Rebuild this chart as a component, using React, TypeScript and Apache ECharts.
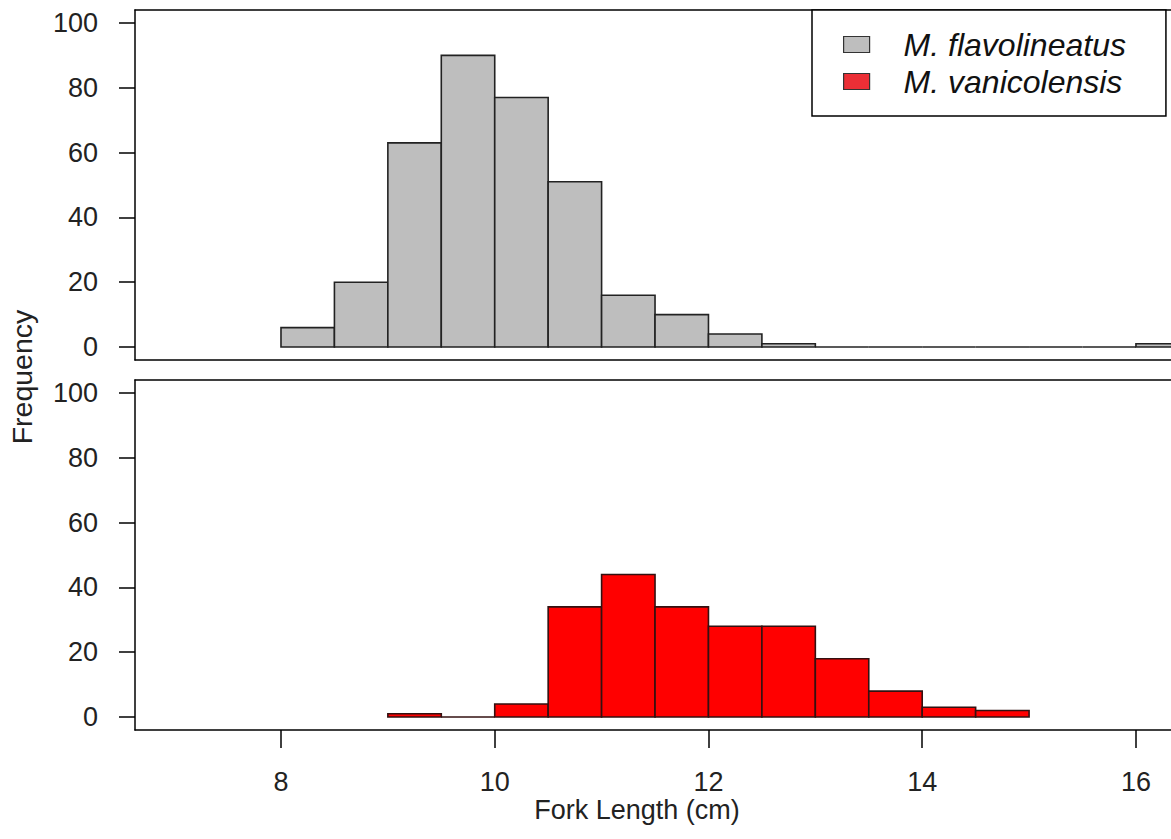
import React, { useEffect, useRef } from "react";
import * as echarts from "echarts";

// Histogram bin edges (cm) and counts
const flavBreaks = [8, 8.5, 9, 9.5, 10, 10.5, 11, 11.5, 12, 12.5, 13, 13.5, 14, 14.5, 15, 15.5, 16, 16.5];
const flavCounts = [6, 20, 63, 90, 77, 51, 16, 10, 4, 1, 0, 0, 0, 0, 0, 0, 1];
const vaniBreaks = [9, 9.5, 10, 10.5, 11, 11.5, 12, 12.5, 13, 13.5, 14, 14.5, 15];
const vaniCounts = [1, 0, 4, 34, 44, 34, 28, 28, 18, 8, 3, 2];

const xTicks = [8, 10, 12, 14, 16];
const yTicks = [0, 20, 40, 60, 80, 100];
const speciesNames = ["M. flavolineatus", "M. vanicolensis"];
const xTitle = "Fork Length (cm)";
const yTitle = "Frequency";

const FONT = "'Liberation Sans', Arial, sans-serif";

function toBins(breaks: number[], counts: number[]) {
  return counts.map((c, i) => [breaks[i], breaks[i + 1], c]);
}

function makeRender(fill: string, stroke: string) {
  return (_params: any, api: any) => {
    const x0 = api.value(0);
    const x1 = api.value(1);
    const c = api.value(2);
    const p0 = api.coord([x0, c]);
    const p1 = api.coord([x1, 0]);
    if (c === 0) {
      return {
        type: "line",
        shape: { x1: p0[0], y1: p1[1], x2: p1[0], y2: p1[1] },
        style: { stroke, lineWidth: 1.6 },
      };
    }
    return {
      type: "rect",
      shape: { x: p0[0], y: p0[1], width: p1[0] - p0[0], height: p1[1] - p0[1] },
      style: { fill, stroke, lineWidth: 1.6 },
    };
  };
}

export default function App() {
  const ref = useRef<HTMLDivElement>(null);

  useEffect(() => {
    document.body.style.margin = "0";
    if (!ref.current) return;
    const chart = echarts.init(ref.current, null, { renderer: "svg" });

    const xMin = 6.634;
    const xMax = 16.328;
    const yMin = -4;
    const yMax = 104;

    const lineStyle = { color: "#000", width: 1.5 };

    const bottomX = (gridIndex: number, withLabels: boolean) => ({
      type: "value",
      gridIndex,
      min: xMin,
      max: xMax,
      position: "bottom",
      axisLine: { show: true, onZero: false, lineStyle },
      axisTick: withLabels
        ? { show: true, length: 18, customValues: xTicks, lineStyle }
        : { show: false },
      axisLabel: withLabels
        ? { show: true, customValues: xTicks, margin: 38, fontSize: 27, color: "#222", fontFamily: FONT }
        : { show: false },
      splitLine: { show: false },
      ...(withLabels
        ? {
            name: xTitle,
            nameLocation: "middle",
            nameGap: 66,
            nameTextStyle: { fontSize: 27, color: "#222", fontFamily: FONT, padding: [0, 32, 0, 0] },
          }
        : {}),
    });

    const topX = (gridIndex: number) => ({
      type: "value",
      gridIndex,
      min: xMin,
      max: xMax,
      position: "top",
      axisLine: { show: true, onZero: false, lineStyle },
      axisTick: { show: false },
      axisLabel: { show: false },
      splitLine: { show: false },
    });

    const yAxis = (gridIndex: number) => ({
      type: "value",
      gridIndex,
      min: yMin,
      max: yMax,
      axisLine: { show: true, onZero: false, lineStyle },
      axisTick: { show: true, length: 16, customValues: yTicks, lineStyle },
      axisLabel: { show: true, customValues: yTicks, margin: 37, fontSize: 27, color: "#222", fontFamily: FONT },
      splitLine: { show: false },
    });

    const legendLabel = (name: string) => `{a|${name}}`;

    chart.setOption({
      animation: false,
      backgroundColor: "#fff",
      grid: [
        { left: 135, top: 10, width: 1036, height: 350, show: false },
        { left: 135, top: 380, width: 1036, height: 350, show: false },
      ],
      xAxis: [bottomX(0, false), topX(0), bottomX(1, true), topX(1)],
      yAxis: [yAxis(0), yAxis(1)],
      legend: {
        orient: "vertical",
        left: 812,
        top: 10,
        padding: [16, 40, 16, 31],
        itemWidth: 26,
        itemHeight: 16,
        itemGap: 0,
        selectedMode: false,
        backgroundColor: "#fff",
        borderColor: "#000",
        borderWidth: 1.5,
        borderRadius: 0,
        formatter: legendLabel,
        textStyle: {
          fontSize: 32,
          fontStyle: "italic",
          color: "#111",
          fontFamily: FONT,
          lineHeight: 37,
          rich: {
            a: {
              fontSize: 32,
              fontStyle: "italic",
              color: "#111",
              fontFamily: FONT,
              lineHeight: 37,
              padding: [0, 0, 0, 29],
            },
          },
        },
        data: [
          { name: speciesNames[0], icon: "rect", itemStyle: { color: "#BEBEBE", borderColor: "#333", borderWidth: 1.2 } },
          { name: speciesNames[1], icon: "rect", itemStyle: { color: "#EB2F36", borderColor: "#333", borderWidth: 1.2 } },
        ],
      },
      graphic: [
        {
          type: "text",
          x: 22,
          y: 377,
          rotation: Math.PI / 2,
          style: {
            text: yTitle,
            fontSize: 28.5,
            fill: "#222",
            fontFamily: FONT,
            align: "center",
            verticalAlign: "middle",
          },
        },
      ],
      series: [
        {
          type: "custom",
          name: speciesNames[0],
          xAxisIndex: 0,
          yAxisIndex: 0,
          clip: true,
          itemStyle: { color: "#BEBEBE" },
          encode: { x: [0, 1], y: 2 },
          data: toBins(flavBreaks, flavCounts),
          renderItem: makeRender("#BEBEBE", "#222"),
        },
        {
          type: "custom",
          name: speciesNames[1],
          xAxisIndex: 2,
          yAxisIndex: 1,
          clip: true,
          itemStyle: { color: "#EB2F36" },
          encode: { x: [0, 1], y: 2 },
          data: toBins(vaniBreaks, vaniCounts),
          renderItem: makeRender("#FF0000", "#331111"),
        },
      ],
    });

    return () => {
      chart.dispose();
    };
  }, []);

  return <div ref={ref} style={{ width: 1171, height: 839 }} />;
}
